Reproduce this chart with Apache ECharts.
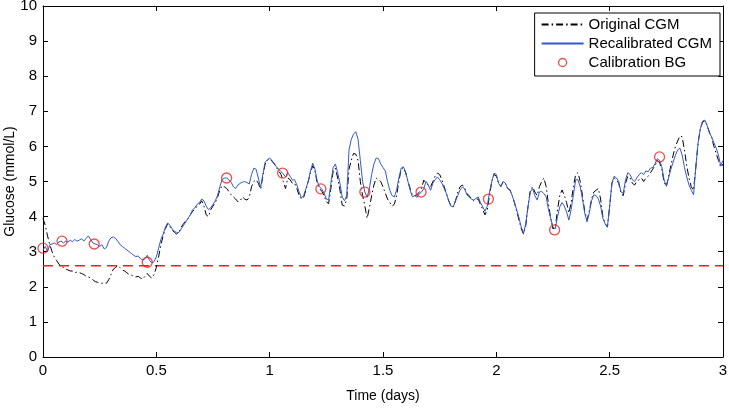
<!DOCTYPE html>
<html>
<head>
<meta charset="utf-8">
<script src="https://cdn.jsdelivr.net/npm/echarts@6/dist/echarts.min.js"></script>
<style>html,body{margin:0;padding:0;background:#fff}#c{width:729px;height:408px}</style>
</head>
<body>
<div id="c"></div>
<script>
// Sampling step of the CGM traces (days)
const timeStep = 0.01;
// Original CGM (mmol/L), from t=0 to t=3
const originalCGM = [
3.95,3.75,3.45,3.2,3.0,2.85,2.75,2.65,2.58,2.55,
2.5,2.48,2.45,2.45,2.4,2.42,2.4,2.38,2.35,2.3,
2.28,2.25,2.2,2.15,2.13,2.1,2.1,2.12,2.1,2.2,
2.35,2.5,2.55,2.6,2.55,2.48,2.45,2.4,2.35,2.33,
2.3,2.28,2.3,2.25,2.22,2.3,2.38,2.3,2.25,2.35,
2.55,2.85,3.2,3.45,3.65,3.8,3.72,3.62,3.55,3.5,
3.55,3.7,3.8,3.88,3.95,4.05,4.15,4.2,4.3,4.35,
4.45,4.3,4.05,4.0,4.2,4.3,4.4,4.55,4.75,4.88,
4.85,4.8,4.72,4.62,4.56,4.5,4.42,4.45,4.56,4.5,
4.47,4.55,4.85,5.0,5.05,4.95,4.78,5.15,5.5,5.6,
5.65,5.58,5.5,5.4,5.3,5.2,5.0,4.8,5.1,5.05,
4.95,4.95,4.8,4.6,4.5,4.55,4.75,5.0,5.25,5.45,
5.3,4.95,4.8,4.72,4.6,4.42,4.37,4.8,5.3,5.38,
5.1,4.76,4.33,4.3,4.5,5.35,5.6,5.8,5.78,5.6,
5.0,4.6,4.3,3.95,4.25,4.6,4.9,5.1,5.05,5.0,
4.85,4.67,4.5,4.4,4.3,4.35,4.6,5.0,5.35,5.4,
5.25,5.0,4.8,4.6,4.6,4.62,4.7,4.8,5.04,4.95,
4.9,4.85,5.0,5.15,5.24,5.2,5.05,4.85,4.65,4.45,
4.3,4.28,4.45,4.7,4.85,4.9,4.82,4.65,4.6,4.5,
4.45,4.5,4.5,4.35,4.2,4.05,4.2,4.6,5.0,5.2,
5.15,4.95,4.86,5.0,4.95,4.8,4.76,4.6,4.4,4.15,
3.9,3.65,3.5,3.75,4.3,4.75,4.85,4.7,4.6,4.85,
5.0,5.1,4.85,4.35,3.95,3.65,3.7,4.2,4.6,4.76,
4.6,4.4,4.1,4.4,4.85,5.2,5.25,5.0,4.6,4.15,
3.9,4.15,4.5,4.7,4.75,4.8,4.5,4.0,3.8,3.7,
4.3,4.95,5.1,5.05,4.95,4.65,4.6,4.95,5.15,5.1,
4.95,4.9,5.0,5.05,5.1,5.0,5.1,5.15,5.25,5.35,
5.45,5.6,5.55,5.35,4.98,4.85,5.15,5.45,5.75,6.0,
6.15,6.3,6.27,5.9,5.45,5.1,4.85,4.75,5.4,6.1,
6.5,6.7,6.72,6.6,6.4,6.25,6.0,5.8,5.6,5.4,
5.5
];
// Recalibrated CGM (mmol/L), from t=0 to t=3
const recalibratedCGM = [
3.05,3.15,3.0,3.2,3.22,3.25,3.2,3.28,3.3,3.25,
3.3,3.27,3.33,3.28,3.35,3.3,3.33,3.37,3.3,3.38,
3.45,3.35,3.25,3.22,3.2,3.15,3.2,3.08,3.12,3.3,
3.4,3.42,3.38,3.3,3.2,3.15,3.1,3.05,3.0,2.95,
2.9,2.86,2.88,2.8,2.76,2.8,2.9,2.75,2.68,2.72,
2.85,3.1,3.35,3.5,3.7,3.82,3.75,3.65,3.58,3.55,
3.55,3.65,3.75,3.85,3.95,4.05,4.2,4.25,4.35,4.4,
4.5,4.45,4.3,4.2,4.25,4.35,4.45,4.6,4.85,5.05,
5.1,5.1,5.05,4.98,4.85,4.8,4.9,4.95,4.98,5.0,
4.97,4.93,5.2,5.38,5.35,5.1,4.82,5.2,5.55,5.62,
5.67,5.6,5.52,5.42,5.35,5.28,5.22,5.13,5.25,5.15,
5.04,5.05,4.9,4.7,4.53,4.6,4.8,5.0,5.3,5.52,
5.35,5.0,4.85,4.78,4.67,4.5,4.47,4.95,5.4,5.5,
5.25,4.95,4.56,4.45,4.6,5.9,6.2,6.35,6.42,6.2,
5.6,5.0,4.7,4.55,4.8,5.2,5.5,5.67,5.65,5.5,
5.4,5.3,5.0,4.75,4.6,4.56,4.76,5.1,5.38,5.42,
5.27,5.0,4.75,4.56,4.6,4.55,4.65,4.7,4.8,5.0,
4.9,4.75,4.95,5.05,5.13,5.05,4.95,4.8,4.65,4.45,
4.3,4.28,4.45,4.6,4.76,4.84,4.8,4.62,4.56,4.5,
4.47,4.52,4.56,4.4,4.28,4.15,4.3,4.7,5.0,5.24,
5.2,4.95,4.86,5.0,4.95,4.8,4.76,4.6,4.4,4.19,
3.96,3.7,3.53,3.8,4.3,4.7,4.8,4.6,4.47,4.7,
4.72,4.65,4.56,4.2,3.95,3.7,3.65,4.0,4.28,4.4,
4.3,4.13,3.9,4.2,4.62,5.05,5.05,4.85,4.5,4.1,
3.85,4.1,4.45,4.62,4.6,4.5,4.3,3.95,3.8,3.7,
4.3,4.96,5.15,5.1,5.0,4.7,4.67,5.05,5.25,5.2,
5.05,5.0,5.1,5.2,5.25,5.2,5.3,5.28,5.38,5.4,
5.5,5.65,5.6,5.42,5.05,4.88,5.1,5.35,5.55,5.75,
5.9,5.95,5.75,5.4,5.13,4.9,4.75,4.62,5.4,6.1,
6.5,6.72,6.75,6.6,6.38,6.27,6.1,5.95,5.75,5.45,
5.6
];
// Calibration blood glucose samples
const calTime  = [0.0, 0.084, 0.226, 0.46, 0.81, 1.057, 1.226, 1.42, 1.668, 1.965, 2.257, 2.72];
const calValue = [3.1, 3.3, 3.22, 2.7, 5.1, 5.24, 4.79, 4.7, 4.7, 4.5, 3.62, 5.7];
// Hypoglycaemia threshold and the time span it covers
const thresholdValue = 2.6;
const thresholdSpan = [0, 3];

const toPairs = arr => arr.map((v, i) => [+(i * timeStep).toFixed(2), v]);
const calPairs = calTime.map((t, i) => [t, calValue[i]]);
const thresholdPairs = thresholdSpan.map(t => [t, thresholdValue]);

const font = 'Liberation Sans, Arial, sans-serif';
const lblStyle = {color: '#000', fontSize: 15, fontFamily: font};
const hidden = {color: 'rgba(0,0,0,0)', borderColor: 'rgba(0,0,0,0)', borderWidth: 0};
const red = '#e82020';

const chart = echarts.init(document.getElementById('c'), null, {renderer: 'canvas'});
const baseX = {
  type: 'value', min: 0, max: 3, interval: 0.5,
  axisLine: {show: true, onZero: false, lineStyle: {color: '#000', width: 1}},
  axisTick: {show: true, inside: true, length: 5, lineStyle: {color: '#000'}},
  splitLine: {show: false}
};
const baseY = {
  type: 'value', min: 0, max: 10, interval: 1,
  axisLine: {show: true, onZero: false, lineStyle: {color: '#000', width: 1}},
  axisTick: {show: true, inside: true, length: 5, lineStyle: {color: '#000'}},
  splitLine: {show: false}
};
chart.setOption({
  animation: false,
  backgroundColor: '#fff',
  grid: {left: 43, right: 6, top: 6, bottom: 51, containLabel: false, outerBoundsMode: 'none'},
  xAxis: [
    Object.assign({}, baseX, {position: 'bottom',
      name: 'Time (days)', nameLocation: 'middle', nameGap: 32, nameMoveOverlap: false,
      nameTextStyle: {color: '#000', fontSize: 14, fontFamily: font},
      axisLabel: Object.assign({margin: 6, formatter: v => String(v)}, lblStyle)}),
    Object.assign({}, baseX, {position: 'top', axisLabel: {show: false}})
  ],
  yAxis: [
    Object.assign({}, baseY, {position: 'left',
      name: 'Glucose (mmol/L)', nameLocation: 'middle', nameGap: 26, nameMoveOverlap: false,
      nameTextStyle: {color: '#000', fontSize: 14, fontFamily: font},
      axisLabel: Object.assign({margin: 6}, lblStyle)}),
    Object.assign({}, baseY, {position: 'right', axisLabel: {show: false}})
  ],
  legend: {
    orient: 'vertical', right: 9, top: 13,
    backgroundColor: '#fff', borderColor: '#000', borderWidth: 1, borderRadius: 0,
    padding: [4, 8, 6, 6], itemGap: 4, itemWidth: 42, itemHeight: 8,
    textStyle: {color: '#000', fontSize: 15, fontFamily: font},
    data: [
      {name: 'Original CGM', itemStyle: hidden},
      {name: 'Recalibrated CGM', itemStyle: hidden},
      {name: 'Calibration BG', icon: 'circle',
       itemStyle: {color: 'rgba(0,0,0,0)', borderColor: red, borderWidth: 1.3}}
    ]
  },
  series: [
    {
      name: 'Threshold', type: 'line', data: thresholdPairs,
      showSymbol: false, symbol: 'none', silent: true,
      lineStyle: {color: red, width: 1.5, type: [10, 6], opacity: 1}, z: 1
    },
    {
      name: 'Original CGM', type: 'line', data: toPairs(originalCGM),
      showSymbol: false, symbol: 'none',
      lineStyle: {color: '#000', width: 1, type: [7, 3, 1.5, 3]},
      itemStyle: {color: '#000'}, z: 2
    },
    {
      name: 'Recalibrated CGM', type: 'line', data: toPairs(recalibratedCGM),
      showSymbol: false, symbol: 'none',
      lineStyle: {color: '#3558cc', width: 1},
      itemStyle: {color: '#3558cc'}, z: 3
    },
    {
      name: 'Calibration BG', type: 'scatter', data: calPairs,
      symbol: 'circle', symbolSize: 10,
      itemStyle: {color: 'rgba(0,0,0,0)', borderColor: red, borderWidth: 1.3}, z: 4
    }
  ]
});
</script>
</body>
</html>
